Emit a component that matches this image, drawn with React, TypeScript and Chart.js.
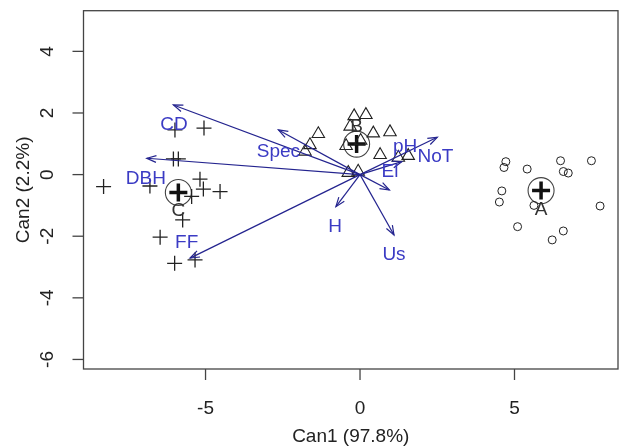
import React, { useEffect, useRef } from "react";
import { Chart, registerables } from "chart.js";

Chart.register(...registerables);

// Axis ticks
const xTicks = [-5, 0, 5];
const yTicks = [-6, -4, -2, 0, 2, 4];
const xTitle = "Can1 (97.8%)";
const yTitle = "Can2 (2.2%)";

// Group A (circles)
const aX = [4.72, 4.66, 5.41, 6.49, 6.58, 6.74, 7.49, 4.59, 4.51, 5.63, 7.77, 5.10, 6.58, 6.22];
const aY = [0.42, 0.23, 0.18, 0.45, 0.10, 0.05, 0.45, -0.53, -0.89, -1.00, -1.02, -1.69, -1.83, -2.12];

// Group B (triangles)
const bX = [-0.19, 0.19, -0.32, 0.43, 0.97, -1.35, -1.62, -1.78, -0.45, 0.02, 0.65, 1.24, 1.56, -0.38, -0.06];
const bY = [1.90, 1.94, 1.56, 1.34, 1.38, 1.32, 0.96, 0.75, 0.93, 1.10, 0.64, 0.55, 0.61, 0.06, 0.10];

// Group C (plus signs)
const cX = [-5.99, -5.05, -6.04, -5.88, -8.30, -6.80, -5.18, -5.07, -4.53, -5.45, -5.74, -6.47, -6.00, -5.34];
const cY = [1.45, 1.51, 0.51, 0.51, -0.39, -0.37, -0.15, -0.47, -0.55, -0.71, -1.47, -2.03, -2.88, -2.77];

// Group means and their labels
const groupNames = ["A", "B", "C"];
const meanX = [5.86, -0.11, -5.88];
const meanY = [-0.52, 0.99, -0.58];
const groupLabelX = [5.86, -0.11, -5.88];
const groupLabelY = [-1.15, 1.54, -1.17];

// Structure vectors
const vecNames = ["CD", "Spec", "DBH", "FF", "H", "Us", "El", "pH", "NoT"];
const vecX = [-6.04, -2.64, -6.9, -5.5, -0.78, 1.1, 0.95, 1.35, 2.5];
const vecY = [2.26, 1.45, 0.53, -2.71, -1.04, -1.96, -0.5, 0.42, 1.21];
const vecLabelX = [-6.02, -2.64, -6.93, -5.61, -0.81, 1.1, 0.97, 1.46, 2.44];
const vecLabelY = [1.61, 0.75, -0.12, -2.21, -1.69, -2.61, 0.1, 0.91, 0.58];

const FONT = "19px 'Liberation Sans', Arial, sans-serif";

export default function App() {
  const ref = useRef<HTMLCanvasElement>(null);

  useEffect(() => {
    document.body.style.margin = "0";
    const canvas = ref.current!;
    const pts = (xs: number[], ys: number[]) => xs.map((x, i) => ({ x, y: ys[i] }));

    const overlay = {
      id: "overlay",
      beforeDraw(chart: any) {
        const c = chart.ctx;
        c.save();
        c.fillStyle = "#ffffff";
        c.fillRect(0, 0, chart.width, chart.height);
        c.restore();
      },
      afterDatasetsDraw(chart: any) {
        const c: CanvasRenderingContext2D = chart.ctx;
        const xs = chart.scales.x;
        const ys = chart.scales.y;
        const ox = xs.getPixelForValue(0);
        const oy = ys.getPixelForValue(0);
        c.save();
        // arrows
        c.strokeStyle = "#24248f";
        c.lineWidth = 1.2;
        for (let i = 0; i < vecNames.length; i++) {
          const tx = xs.getPixelForValue(vecX[i]);
          const ty = ys.getPixelForValue(vecY[i]);
          c.beginPath();
          c.moveTo(ox, oy);
          c.lineTo(tx, ty);
          c.stroke();
          const ang = Math.atan2(ty - oy, tx - ox);
          const L = 10;
          const a = (20 * Math.PI) / 180;
          c.beginPath();
          c.moveTo(tx - L * Math.cos(ang - a), ty - L * Math.sin(ang - a));
          c.lineTo(tx, ty);
          c.lineTo(tx - L * Math.cos(ang + a), ty - L * Math.sin(ang + a));
          c.stroke();
        }
        // vector labels
        c.font = FONT;
        c.fillStyle = "#3b3bc4";
        c.textAlign = "center";
        c.textBaseline = "middle";
        for (let i = 0; i < vecNames.length; i++) {
          c.fillText(vecNames[i], xs.getPixelForValue(vecLabelX[i]), ys.getPixelForValue(vecLabelY[i]));
        }
        // group labels
        c.fillStyle = "#333333";
        for (let i = 0; i < groupNames.length; i++) {
          c.fillText(groupNames[i], xs.getPixelForValue(groupLabelX[i]), ys.getPixelForValue(groupLabelY[i]));
        }
        c.restore();
      },
      afterDraw(chart: any) {
        const c: CanvasRenderingContext2D = chart.ctx;
        const ca = chart.chartArea;
        const xs = chart.scales.x;
        const ys = chart.scales.y;
        c.save();
        c.strokeStyle = "#444444";
        c.lineWidth = 1.3;
        c.strokeRect(ca.left, ca.top, ca.right - ca.left, ca.bottom - ca.top);
        const tl = 11;
        c.font = FONT;
        c.fillStyle = "#222222";
        c.textAlign = "center";
        c.textBaseline = "middle";
        for (const t of xTicks) {
          const px = xs.getPixelForValue(t);
          c.beginPath();
          c.moveTo(px, ca.bottom);
          c.lineTo(px, ca.bottom + tl);
          c.stroke();
          c.fillText(String(t), px, 409);
        }
        for (const t of yTicks) {
          const py = ys.getPixelForValue(t);
          c.beginPath();
          c.moveTo(ca.left, py);
          c.lineTo(ca.left - tl, py);
          c.stroke();
          c.save();
          c.translate(47.5, py);
          c.rotate(-Math.PI / 2);
          c.fillText(String(t), 0, 0);
          c.restore();
        }
        c.fillText(xTitle, (ca.left + ca.right) / 2, 437);
        c.save();
        c.translate(24, (ca.top + ca.bottom) / 2);
        c.rotate(-Math.PI / 2);
        c.fillText(yTitle, 0, 0);
        c.restore();
        c.restore();
      },
    };

    const chart = new Chart(canvas, {
      type: "scatter",
      data: {
        datasets: [
          {
            label: "A",
            data: pts(aX, aY),
            pointStyle: "circle",
            radius: 4,
            borderWidth: 1,
            borderColor: "#222222",
            backgroundColor: "rgba(0,0,0,0)",
          },
          {
            label: "B",
            data: pts(bX, bY),
            pointStyle: "triangle",
            radius: 7.2,
            borderWidth: 1.1,
            borderColor: "#222222",
            backgroundColor: "rgba(0,0,0,0)",
          },
          {
            label: "C",
            data: pts(cX, cY),
            pointStyle: "cross",
            radius: 7.5,
            borderWidth: 1.3,
            borderColor: "#222222",
            backgroundColor: "rgba(0,0,0,0)",
          },
          {
            label: "mean circle",
            data: pts(meanX, meanY),
            pointStyle: "circle",
            radius: 13,
            borderWidth: 1.1,
            borderColor: "#444444",
            backgroundColor: "rgba(0,0,0,0)",
          },
          {
            label: "mean",
            data: pts(meanX, meanY),
            pointStyle: "cross",
            radius: 9,
            borderWidth: 3.5,
            borderColor: "#111111",
            backgroundColor: "rgba(0,0,0,0)",
          },
        ],
      },
      options: {
        responsive: false,
        animation: false,
        events: [],
        layout: { autoPadding: false, padding: { left: 83.5, top: 10.7, right: 1, bottom: 78 } },
        plugins: { legend: { display: false }, tooltip: { enabled: false } },
        scales: {
          x: { type: "linear", min: -8.95, max: 8.35, display: false },
          y: { type: "linear", min: -6.31, max: 5.32, display: false },
        },
      },
      plugins: [overlay],
    });
    return () => chart.destroy();
  }, []);

  return (
    <div style={{ position: "absolute", left: 0, top: 0, width: 619, height: 447, background: "#fff" }}>
      <canvas ref={ref} width={619} height={447} style={{ display: "block" }} />
    </div>
  );
}
